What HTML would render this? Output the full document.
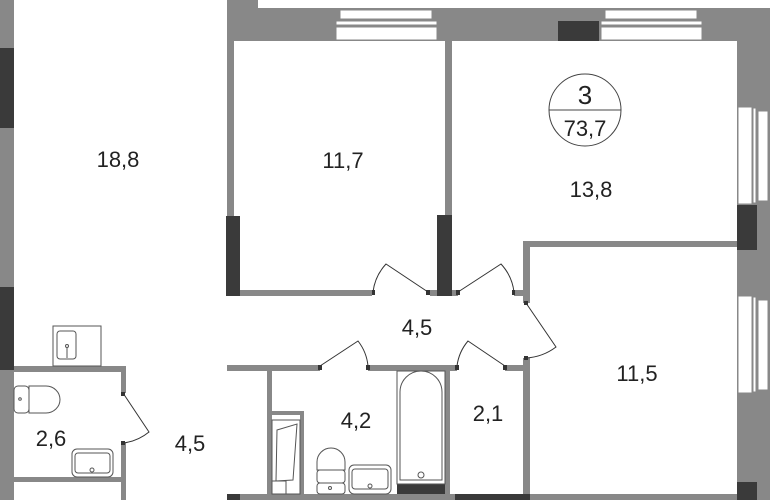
<!DOCTYPE html>
<html><head><style>html,body{margin:0;padding:0;background:#fff}svg{display:block}</style></head>
<body>
<svg width="770" height="500" viewBox="0 0 770 500" xmlns="http://www.w3.org/2000/svg" font-family="Liberation Sans, sans-serif">
<rect width="770" height="500" fill="#fff"/>
<g fill="#888">
<rect x="0" y="0" width="14" height="500"/>
<rect x="227" y="0" width="31" height="10"/>
<rect x="258" y="8" width="512" height="2"/>
<rect x="227" y="9" width="543" height="32"/>
<rect x="737" y="9" width="33" height="491"/>
<rect x="227" y="41" width="7" height="180"/>
<rect x="445" y="41" width="7" height="180"/>
<rect x="240" y="290" width="132" height="6"/>
<rect x="430" y="290" width="28" height="6"/>
<rect x="514" y="290" width="14" height="6"/>
<rect x="523" y="241" width="214" height="6"/>
<rect x="523" y="241" width="7" height="62"/>
<rect x="523" y="358" width="7" height="142"/>
<rect x="227" y="365" width="93" height="6"/>
<rect x="368" y="365" width="89" height="6"/>
<rect x="505" y="365" width="25" height="6"/>
<rect x="267" y="365" width="5" height="135"/>
<rect x="272" y="411" width="32" height="4"/>
<rect x="300" y="411" width="4" height="89"/>
<rect x="445" y="365" width="5" height="135"/>
<rect x="227" y="494" width="543" height="6"/>
<rect x="14" y="366" width="112" height="6"/>
<rect x="121" y="366" width="5" height="27"/>
<rect x="121" y="443" width="5" height="57"/>
<rect x="14" y="477" width="107" height="5"/>
</g>
<g fill="#3a3a3a">
<rect x="0" y="48" width="14" height="80"/>
<rect x="0" y="287" width="14" height="83"/>
<rect x="226" y="216" width="14" height="80"/>
<rect x="437" y="215" width="15" height="81"/>
<rect x="558" y="21" width="41" height="20"/>
<rect x="737" y="205" width="20" height="45"/>
<rect x="737" y="482" width="20" height="18"/>
<rect x="227" y="494" width="13" height="6"/>
<rect x="455" y="494" width="75" height="6"/>
<rect x="397" y="484" width="48" height="10"/>
</g>
<g fill="#fff" stroke="#888" stroke-width="1">
<rect x="340" y="10" width="92" height="9"/>
<rect x="336" y="21" width="101" height="4"/>
<rect x="336" y="27" width="101" height="13"/>
<rect x="605" y="10" width="92" height="9"/>
<rect x="601" y="21" width="101" height="4"/>
<rect x="601" y="27" width="101" height="13"/>
<rect x="738" y="107" width="14" height="97"/>
<rect x="753" y="108" width="3" height="95"/>
<rect x="758" y="111" width="10" height="90"/>
<rect x="738" y="296" width="14" height="97"/>
<rect x="753" y="297" width="3" height="95"/>
<rect x="758" y="300" width="10" height="90"/>
</g>
<g fill="none" stroke="#333" stroke-width="1">
<path d="M428 292 L386 264 A50 50 0 0 0 373 292"/>
<path d="M458 292 L501 264 A50 50 0 0 1 514 292"/>
<path d="M526 303 L556 347 A55 55 0 0 1 526 358"/>
<path d="M320 366 L358 341 A48 48 0 0 1 368 366"/>
<path d="M505 366 L468 341 A48 48 0 0 0 457 366"/>
<path d="M123 393 L149 432 A50 50 0 0 1 123 443"/>
</g>
<g fill="#333">
<rect x="426" y="290" width="4" height="5"/><rect x="372" y="290" width="3" height="5"/>
<rect x="456" y="290" width="4" height="5"/><rect x="512" y="290" width="3" height="5"/>
<rect x="524" y="301" width="4" height="4"/><rect x="524" y="356" width="4" height="4"/>
<rect x="318" y="365" width="4" height="5"/><rect x="366" y="365" width="4" height="5"/>
<rect x="503" y="365" width="4" height="5"/><rect x="455" y="365" width="4" height="5"/>
<rect x="121" y="392" width="4" height="4"/><rect x="121" y="441" width="4" height="4"/>
</g>
<g fill="#fff" stroke="#555" stroke-width="1">
<rect x="53" y="326" width="48" height="40"/>
<rect x="57" y="331" width="19" height="28" rx="3"/>
<line x1="67" y1="347" x2="67" y2="358"/><circle cx="67" cy="346" r="1.5"/>
<rect x="14" y="386" width="15" height="27" rx="4"/>
<path d="M29 386 H46 A14 13.5 0 0 1 46 413 H29 Z"/>
<circle cx="20" cy="399" r="1.3"/>
<rect x="72" y="449" width="41" height="28" rx="5"/>
<rect x="75" y="453" width="35" height="20" rx="3"/>
<circle cx="92" cy="470" r="2"/>
<rect x="272" y="420" width="28" height="74"/>
<path d="M277 430 L297 424 L293 480 L276 481 Z"/>
<rect x="272" y="481" width="14" height="13"/>
<rect x="397" y="371" width="48" height="113"/>
<path d="M400 480 V392 A21 21 0 0 1 442 392 V480 Z"/>
<circle cx="421" cy="475" r="3"/>
<path d="M317 470 V462 A14 14 0 0 1 345 462 V470 Z"/>
<rect x="317" y="470" width="28" height="13" rx="3"/>
<rect x="317" y="483" width="28" height="11" rx="3"/>
<circle cx="330" cy="488" r="1.5"/>
<rect x="349" y="465" width="42" height="29" rx="5"/>
<rect x="352" y="469" width="36" height="20" rx="3"/>
<circle cx="370" cy="486" r="2"/>
</g>
<circle cx="585" cy="110" r="36" fill="none" stroke="#444" stroke-width="1"/>
<line x1="549" y1="110" x2="621" y2="110" stroke="#444" stroke-width="1"/>
<g fill="#222" font-size="22" text-anchor="middle">
<text x="585" y="104" font-size="26">3</text>
<text x="585" y="136">73,7</text>
<text x="118" y="167">18,8</text>
<text x="343" y="168">11,7</text>
<text x="591" y="197">13,8</text>
<text x="417" y="335">4,5</text>
<text x="637" y="381">11,5</text>
<text x="51" y="446">2,6</text>
<text x="190" y="451">4,5</text>
<text x="356" y="428">4,2</text>
<text x="488" y="421">2,1</text>
</g>
</svg>
</body></html>
